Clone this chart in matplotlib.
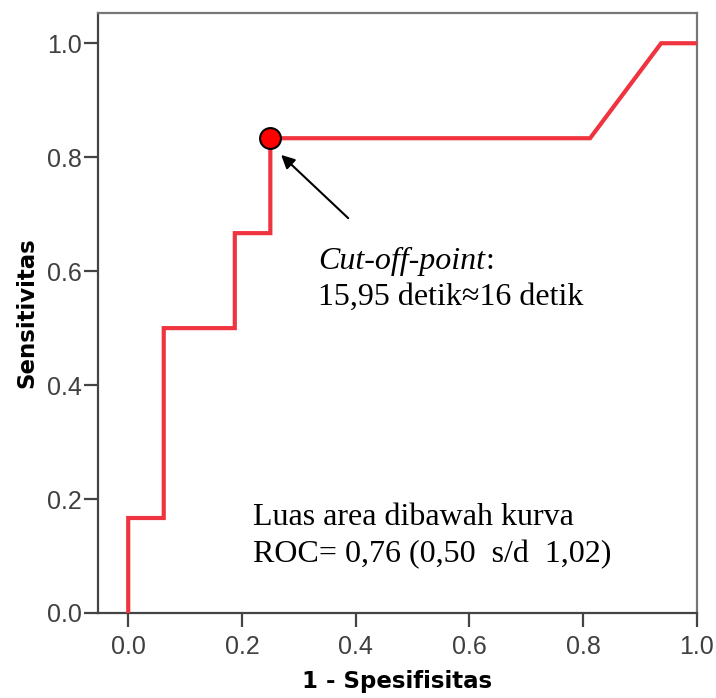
import matplotlib
matplotlib.use("Agg")
import matplotlib.pyplot as plt

# ROC curve points (1 - specificity, sensitivity)
fpr = [0.0, 0.0, 0.0625, 0.0625, 0.1875, 0.1875, 0.25, 0.25, 0.8125, 0.9375, 1.0]
tpr = [0.0, 0.1667, 0.1667, 0.5, 0.5, 0.6667, 0.6667, 0.8333, 0.8333, 1.0, 1.0]

# cut-off point
cut_x = 0.25
cut_y = 0.8333

xticks = [0.0, 0.2, 0.4, 0.6, 0.8, 1.0]
yticks = [0.0, 0.2, 0.4, 0.6, 0.8, 1.0]

cut_label = "Cut-off-point"
cut_value = "15,95 detik\u224816 detik"
auc_line1 = "Luas area dibawah kurva"
auc_line2 = "ROC= 0,76 (0,50  s/d  1,02)"

fig = plt.figure(figsize=(7.16, 6.98), dpi=100)
ax = fig.add_axes([0.137, 0.1218, 0.836, 0.8595])

ax.plot(fpr, tpr, color="#f0343f", lw=3, solid_joinstyle="miter", zorder=3)
ax.plot([cut_x], [cut_y], "o", ms=15, mfc="#ff0000", mec="black", mew=1.5, zorder=4)

ax.set_xlim(-0.053, 1.0)
ax.set_ylim(0.0, 1.053)
ax.set_xticks(xticks)
ax.set_yticks(yticks)
ax.set_xticklabels([f"{t:.1f}" for t in xticks])
ax.set_yticklabels([f"{t:.1f}" for t in yticks])

for side in ["left", "bottom"]:
    ax.spines[side].set_color("#444444")
    ax.spines[side].set_linewidth(1.6)
for side in ["top", "right"]:
    ax.spines[side].set_color("#777777")
    ax.spines[side].set_linewidth(1.6)

ax.tick_params(axis="both", direction="out", length=10, width=1.6, color="#444444",
               labelcolor="#404040", labelsize=18)
ax.tick_params(axis="y", pad=2)
ax.tick_params(axis="x", pad=6)
for lab in ax.get_xticklabels() + ax.get_yticklabels():
    lab.set_family("Liberation Sans")

ax.set_xlabel("1 - Spesifisitas", fontsize=16.5, fontweight="bold", family="DejaVu Sans", labelpad=8)
ax.set_ylabel("Sensitivitas", fontsize=16.5, fontweight="bold", family="DejaVu Sans", labelpad=6)

# arrow to the cut-off point
ax.annotate("", xy=(0.269, 0.804), xytext=(0.387, 0.693),
            arrowprops=dict(arrowstyle="-|>", color="black", lw=1.5, mutation_scale=20,
                            shrinkA=0, shrinkB=0))

serif = "Liberation Serif"
t1 = ax.text(0.334, 0.604, cut_label, fontsize=23, family=serif, style="italic", va="baseline")
ax.annotate(":", xy=(1, 0), xycoords=t1, fontsize=23, family=serif, va="bottom")
ax.text(0.334, 0.540, cut_value, fontsize=23, family=serif, va="baseline")

ax.text(0.220, 0.154, auc_line1, fontsize=23, family=serif, va="baseline")
ax.text(0.220, 0.089, auc_line2, fontsize=23, family=serif, va="baseline")

fig.savefig("out.png", dpi=100)
